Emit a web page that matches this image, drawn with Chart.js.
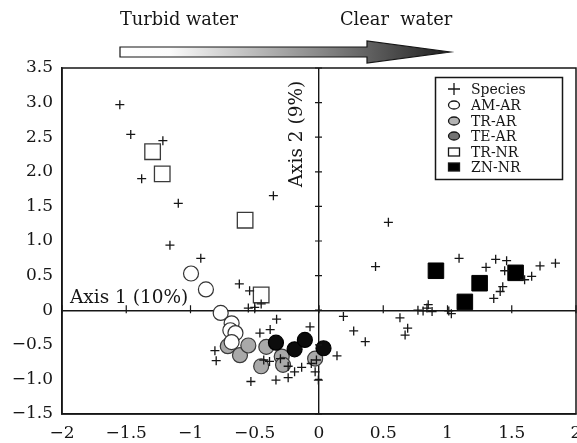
<!DOCTYPE html>
<html>
<head>
<meta charset="utf-8">
<script src="https://cdn.jsdelivr.net/npm/chart.js@4.4.1/dist/chart.umd.min.js"></script>
<style>
  html, body { margin: 0; padding: 0; background: #fff; }
  #wrap { width: 577px; height: 443px; }
</style>
</head>
<body>
<div id="wrap"><canvas id="ordChart" width="577" height="443"></canvas></div>
<script>
/* ---------------- DATA ---------------- */

const xTickLabels = ["\u22122", "\u22121.5", "\u22121", "\u22120.5", "0", "0.5", "1", "1.5", "2"];
const yTickLabels = ["\u22121.5", "\u22121.0", "\u22120.5", "0", "0.5", "1.0", "1.5", "2.0", "2.5", "3.0", "3.5"];
const groupNames = ["Species", "AM-AR", "TR-AR", "TE-AR", "TR-NR", "ZN-NR"];

const speciesPts = [
  [-1.55, 2.97], [-1.465, 2.54], [-1.215, 2.45], [-1.38, 1.90], [-1.095, 1.545],
  [-0.355, 1.655], [-1.16, 0.94], [-0.92, 0.75], [0.54, 1.27],
  [-0.62, 0.38], [-0.54, 0.28], [-0.55, 0.03], [-0.50, 0.04], [-0.45, 0.09],
  [-0.33, -0.13], [-0.38, -0.28], [-0.46, -0.33], [-0.07, -0.24],
  [-0.81, -0.585], [-0.80, -0.73], [-0.43, -0.72], [-0.385, -0.74], [-0.30, -0.70],
  [-0.24, -0.81], [-0.19, -0.89], [-0.135, -0.825], [-0.24, -0.975], [-0.335, -1.01],
  [-0.53, -1.03], [-0.06, -0.77], [-0.03, -0.89], [-0.005, -1.01], [0.14, -0.66],
  [-0.02, -0.72],
  [0.44, 0.63], [0.19, -0.09], [0.27, -0.30], [0.36, -0.455], [0.63, -0.11],
  [0.69, -0.26], [0.67, -0.36], [0.77, 0.00], [0.81, -0.01], [0.85, 0.08],
  [0.84, 0.03], [0.88, -0.02], [1.01, -0.01], [1.03, -0.05], [1.09, 0.75],
  [1.30, 0.62], [1.375, 0.735], [1.46, 0.715], [1.445, 0.57], [1.36, 0.17],
  [1.41, 0.27], [1.43, 0.34], [1.60, 0.44], [1.655, 0.49], [1.72, 0.64], [1.84, 0.68]
];
const amArPts = [[-0.996, 0.53], [-0.88, 0.30], [-0.765, -0.04], [-0.68, -0.19], [-0.69, -0.29], [-0.65, -0.33], [-0.68, -0.46]];
const trArPts = [[-0.71, -0.52], [-0.615, -0.65], [-0.55, -0.51], [-0.41, -0.53], [-0.45, -0.81], [-0.29, -0.67], [-0.28, -0.79], [-0.03, -0.70]];
const teArPts = [[-0.335, -0.47], [-0.19, -0.565], [-0.11, -0.43], [0.035, -0.55]];
const trNrPts = [[-1.295, 2.29], [-1.22, 1.97], [-0.575, 1.30], [-0.45, 0.22]];
const znNrPts = [[0.91, 0.57], [1.25, 0.39], [1.135, 0.12], [1.53, 0.54]];

/* ---------------- STYLES ---------------- */

const FONT = "'DejaVu Serif', 'Liberation Serif', serif";
const INK = "#161616";

const toXY = pts => pts.map(p => ({ x: p[0], y: p[1] }));

const datasets = [
  { label: groupNames[0], data: toXY(speciesPts), pointStyle: "cross", pointRadius: 4.5,
    borderColor: INK, pointBorderWidth: 1.3, order: 0 },
  { label: groupNames[1], data: toXY(amArPts), pointStyle: "circle", pointRadius: 7.5,
    backgroundColor: "#ffffff", borderColor: "#333", pointBorderWidth: 1.2, order: 1 },
  { label: groupNames[2], data: toXY(trArPts), pointStyle: "circle", pointRadius: 7.5,
    backgroundColor: "#a9a9a9", borderColor: "#3a3a3a", pointBorderWidth: 1.2, order: 3 },
  { label: groupNames[3], data: toXY(teArPts), pointStyle: "circle", pointRadius: 7.5,
    backgroundColor: "#0c0c0c", borderColor: "#000", pointBorderWidth: 1.2, order: 2 },
  { label: groupNames[4], data: toXY(trNrPts), pointStyle: "rect", pointRadius: 11,
    backgroundColor: "#ffffff", borderColor: "#3a3a3a", pointBorderWidth: 1.3, order: 4 },
  { label: groupNames[5], data: toXY(znNrPts), pointStyle: "rect", pointRadius: 11,
    backgroundColor: "#000", borderColor: "#000", pointBorderWidth: 1, order: 5 }
];

// swatches in the printed legend are not the same tones as the marks
const legendSwatches = [
  { type: "plus" },
  { type: "ellipse", fill: "#ffffff" },
  { type: "ellipse", fill: "#b2b2b2" },
  { type: "ellipse", fill: "#737373" },
  { type: "box", fill: "#ffffff" },
  { type: "box", fill: "#000" }
];

/* ---------------- DECORATION PLUGIN ---------------- */

const decor = {
  id: "decor",
  afterDraw(chart) {
    const ctx = chart.ctx;
    const a = chart.chartArea;
    const xs = chart.scales.x, ys = chart.scales.y;
    const x0 = xs.getPixelForValue(0), y0 = ys.getPixelForValue(0);

    ctx.save();
    ctx.strokeStyle = INK;
    ctx.fillStyle = INK;

    // frame
    ctx.lineWidth = 1.5;
    ctx.strokeRect(a.left, a.top, a.right - a.left, a.bottom - a.top);

    // tick marks on the zero lines
    ctx.lineWidth = 1.2;
    ctx.beginPath();
    ys.ticks.forEach(t => {
      const py = ys.getPixelForValue(t.value);
      ctx.moveTo(x0 - 4, py); ctx.lineTo(x0 + 3, py);
    });
    xs.ticks.forEach(t => {
      const px = xs.getPixelForValue(t.value);
      ctx.moveTo(px, y0 - 5); ctx.lineTo(px, y0 + 3);
    });
    ctx.stroke();

    // axis names
    ctx.font = "18.5px " + FONT;
    ctx.textAlign = "left";
    ctx.textBaseline = "alphabetic";
    ctx.fillText("Axis 1 (10%)", 70, 303);
    ctx.save();
    ctx.translate(x0 - 22, 134);
    ctx.rotate(-Math.PI / 2);
    ctx.textAlign = "center";
    ctx.textBaseline = "middle";
    ctx.fillText("Axis 2 (9%)", 0, 0);
    ctx.restore();

    // gradient arrow
    const g = ctx.createLinearGradient(120, 0, 450, 0);
    g.addColorStop(0, "#ffffff");
    g.addColorStop(0.15, "#fbfbfb");
    g.addColorStop(0.6, "#8a8a8a");
    g.addColorStop(1, "#1e1e1e");
    ctx.beginPath();
    ctx.moveTo(120, 47); ctx.lineTo(367, 47); ctx.lineTo(367, 41);
    ctx.lineTo(450, 52);
    ctx.lineTo(367, 63); ctx.lineTo(367, 57); ctx.lineTo(120, 57);
    ctx.closePath();
    ctx.fillStyle = g;
    ctx.fill();
    ctx.lineWidth = 1.2;
    ctx.stroke();

    ctx.fillStyle = INK;
    ctx.font = "17.8px " + FONT;
    ctx.textBaseline = "middle";
    ctx.fillText("Turbid water", 120, 20);
    ctx.fillText("Clear  water", 340, 20);

    // legend
    ctx.lineWidth = 1.5;
    ctx.strokeRect(435.5, 77.5, 127, 102);
    ctx.font = "14px " + FONT;
    const rowY = [89, 105, 121, 136, 152, 167];
    groupNames.forEach((name, i) => {
      const s = legendSwatches[i], cy = rowY[i], cx = 454;
      ctx.lineWidth = 1.3;
      ctx.strokeStyle = INK;
      if (s.type === "plus") {
        ctx.beginPath();
        ctx.moveTo(cx - 6, cy); ctx.lineTo(cx + 6, cy);
        ctx.moveTo(cx, cy - 6); ctx.lineTo(cx, cy + 6);
        ctx.stroke();
      } else if (s.type === "ellipse") {
        ctx.beginPath();
        ctx.ellipse(cx, cy, 5.5, 4, 0, 0, Math.PI * 2);
        ctx.fillStyle = s.fill;
        ctx.fill();
        ctx.stroke();
      } else {
        ctx.fillStyle = s.fill;
        ctx.fillRect(cx - 5.5, cy - 4, 11, 8);
        ctx.strokeRect(cx - 5.5, cy - 4, 11, 8);
      }
      ctx.fillStyle = INK;
      ctx.textAlign = "left";
      ctx.textBaseline = "middle";
      ctx.fillText(name, 471, cy + 1);
    });
    ctx.restore();
  }
};

/* ---------------- CHART ---------------- */

const zeroGrid = ctx => (ctx.tick && ctx.tick.value === 0) ? INK : "rgba(0,0,0,0)";

new Chart(document.getElementById("ordChart"), {
  type: "scatter",
  data: { datasets: datasets },
  options: {
    responsive: false,
    animation: false,
    events: [],
    layout: { autoPadding: false, padding: { top: 68, right: 1, left: 0, bottom: 0 } },
    plugins: { legend: { display: false }, tooltip: { enabled: false } },
    scales: {
      x: {
        min: -2, max: 2,
        ticks: {
          stepSize: 0.5,
          autoSkip: false,
          maxRotation: 0,
          padding: 9,
          color: INK,
          font: { family: FONT, size: 17 },
          callback: (v, i) => xTickLabels[i]
        },
        grid: { color: zeroGrid, lineWidth: 1.4, drawTicks: false },
        border: { display: true, color: INK, width: 1.5 },
        afterFit: s => { s.height = 29; s.paddingLeft = 0; s.paddingRight = 0; }
      },
      y: {
        min: -1.5, max: 3.5,
        ticks: {
          stepSize: 0.5,
          autoSkip: false,
          padding: 9,
          color: INK,
          font: { family: FONT, size: 17 },
          callback: (v, i) => yTickLabels[i]
        },
        grid: { color: zeroGrid, lineWidth: 1.4, drawTicks: false },
        border: { display: true, color: INK, width: 1.5 },
        afterFit: s => { s.width = 62; s.paddingTop = 0; s.paddingBottom = 0; }
      }
    }
  },
  plugins: [decor]
});
</script>
</body>
</html>
